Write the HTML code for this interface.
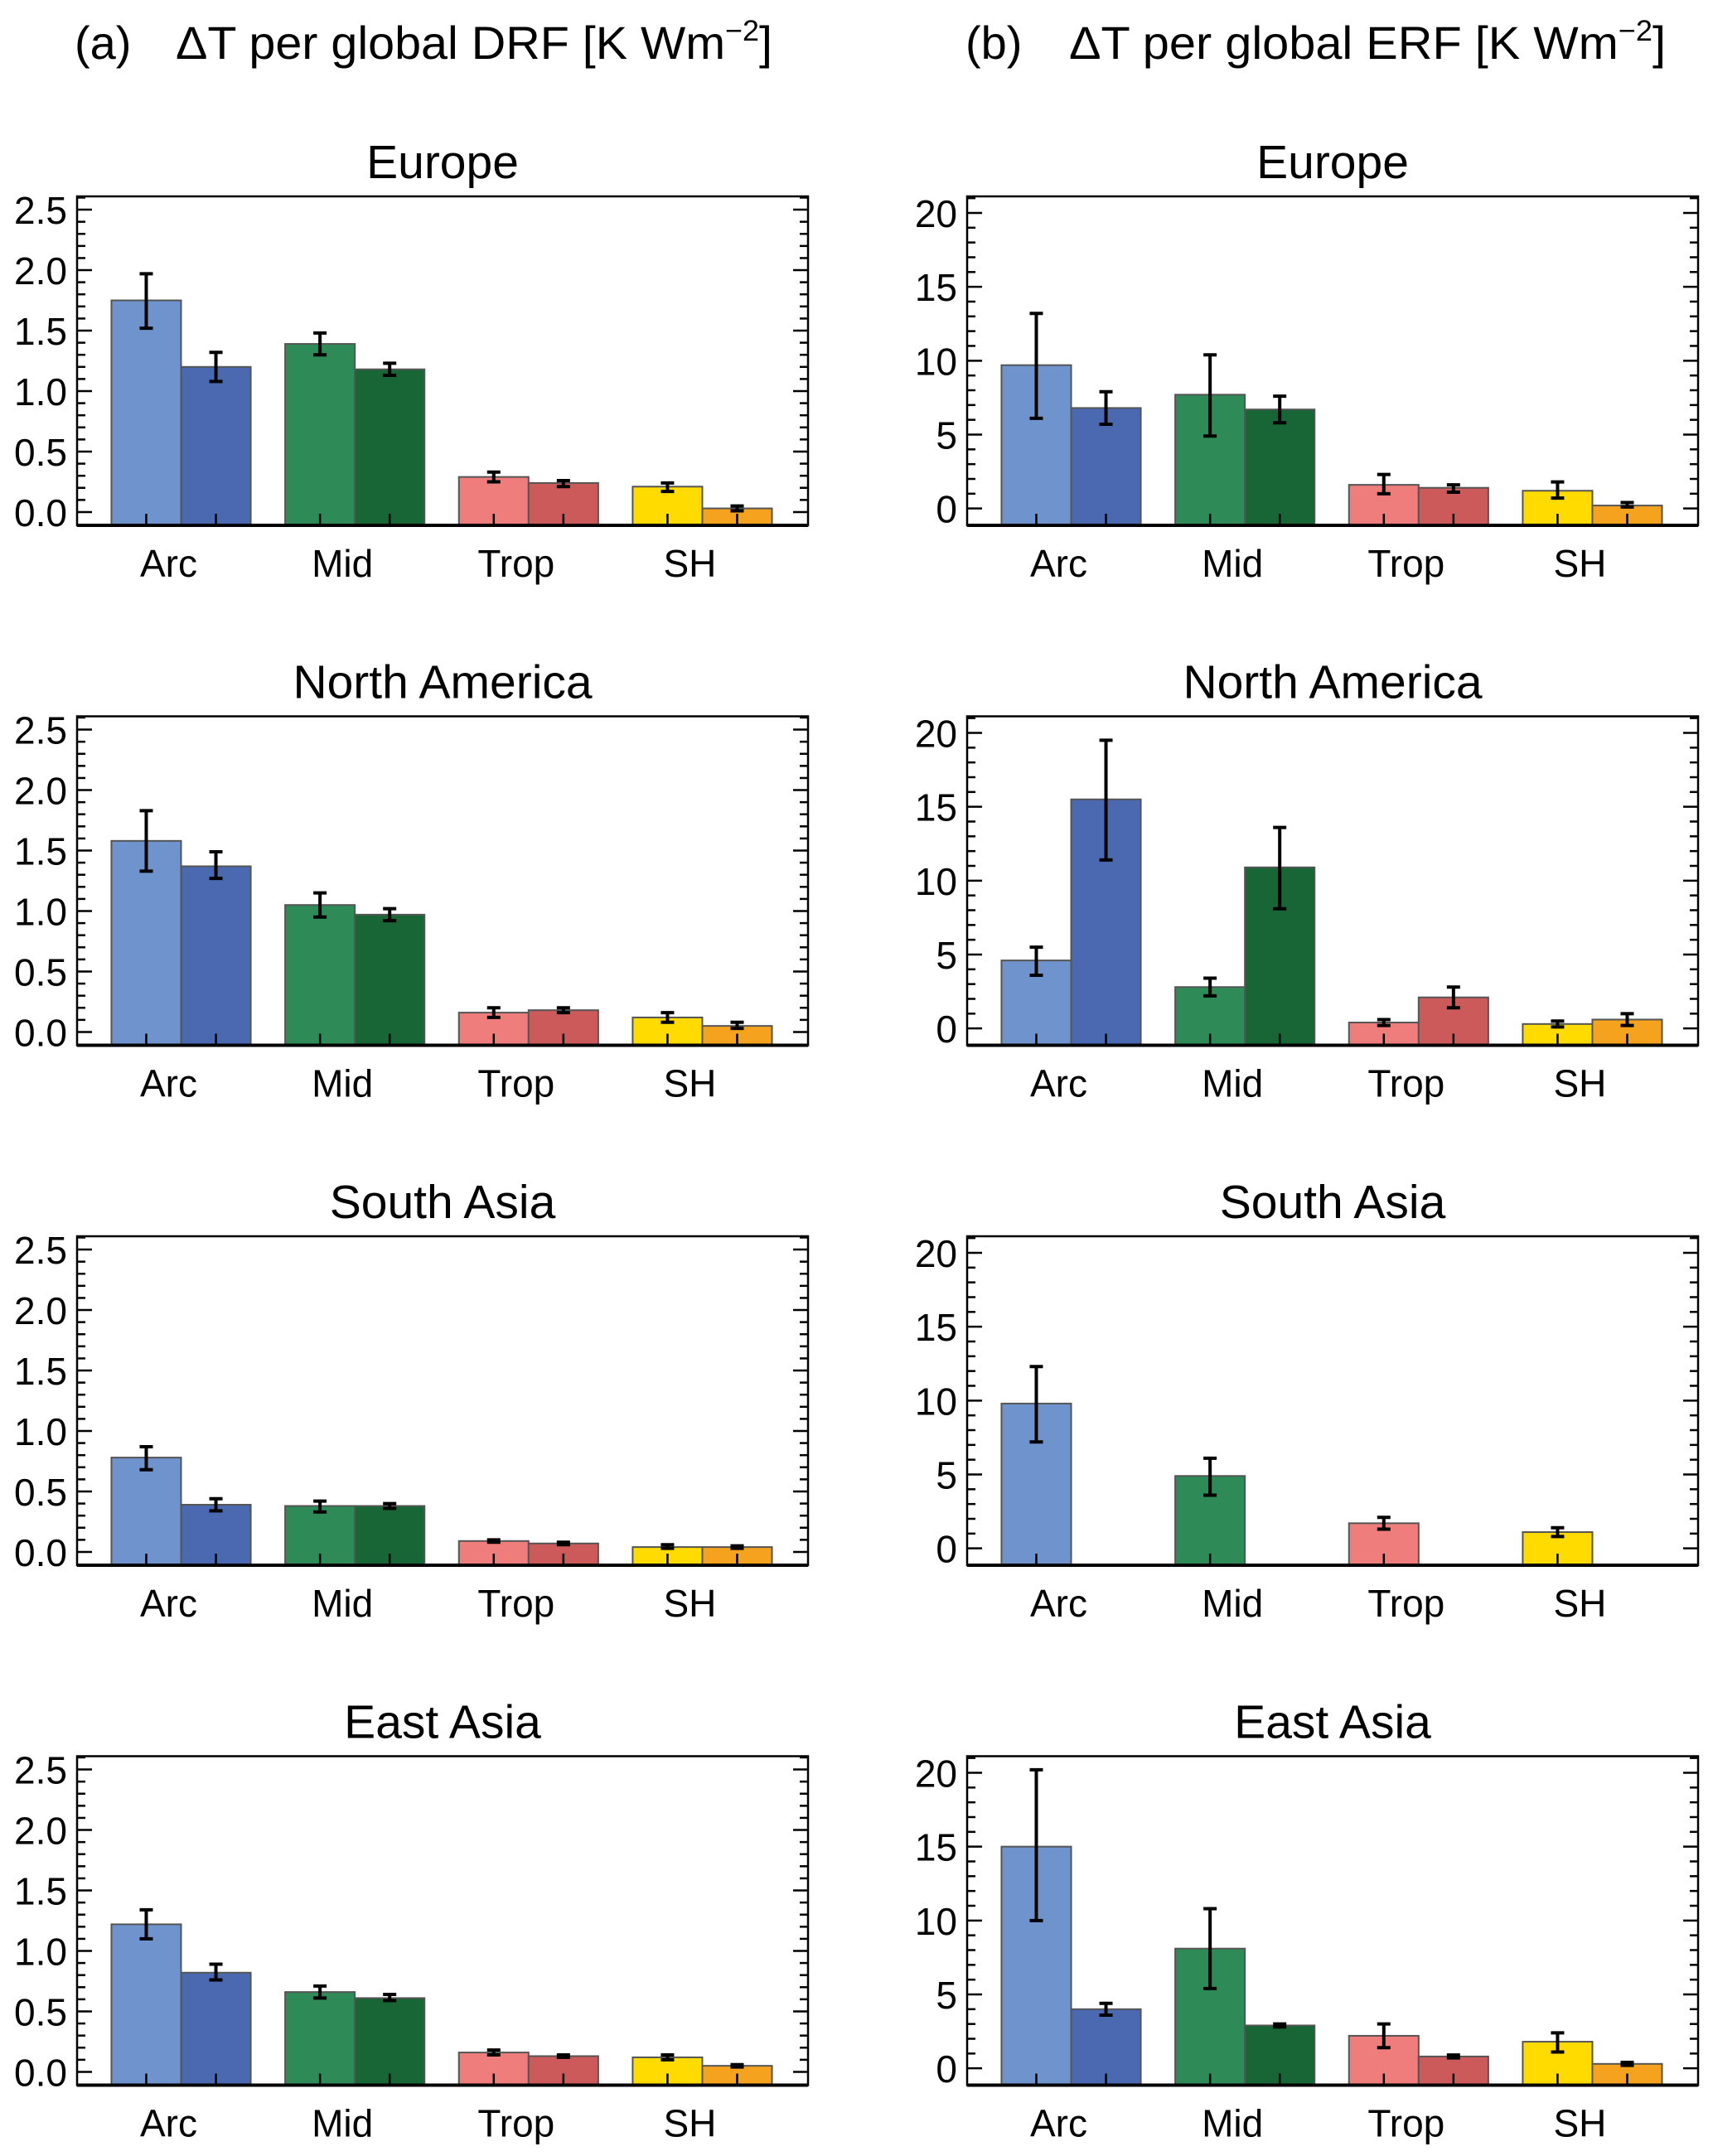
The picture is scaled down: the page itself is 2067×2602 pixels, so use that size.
<!DOCTYPE html>
<html><head><meta charset="utf-8"><style>
html,body{margin:0;padding:0;background:#fff;}
svg{display:block;font-family:"Liberation Sans",Arial,sans-serif;}
</style></head><body>
<svg id="fig" width="2067" height="2602" viewBox="0 0 2067 2602" xmlns="http://www.w3.org/2000/svg">
<text x="90" y="71" font-size="56">(a)</text>
<text x="212" y="71" font-size="56" textLength="720" lengthAdjust="spacingAndGlyphs">ΔT per global DRF [K Wm<tspan dy="-22" font-size="35">−2</tspan><tspan dy="22">]</tspan></text>
<text x="1165" y="71" font-size="56">(b)</text>
<text x="1290" y="71" font-size="56" textLength="720" lengthAdjust="spacingAndGlyphs">ΔT per global ERF [K Wm<tspan dy="-22" font-size="35">−2</tspan><tspan dy="22">]</tspan></text>
</svg>
<script>
const categories = ["Arc","Mid","Trop","SH"];
const regions = ["Europe","North America","South Asia","East Asia"];
const colors1 = ["#6f93cc","#2e8b57","#ee7d7b","#ffdb00"];
const colors2 = ["#4b69b1","#186535","#cc5a5a","#f5a31e"];
const drf1 = [[1.75,1.39,0.29,0.21],[1.58,1.05,0.16,0.12],[0.78,0.38,0.09,0.04],[1.22,0.66,0.16,0.12]];
const drf1Lo = [[1.52,1.30,0.25,0.17],[1.33,0.95,0.12,0.08],[0.68,0.33,0.08,0.03],[1.10,0.61,0.14,0.10]];
const drf1Hi = [[1.97,1.48,0.33,0.24],[1.83,1.15,0.20,0.16],[0.87,0.42,0.10,0.06],[1.34,0.71,0.18,0.14]];
const drf2 = [[1.20,1.18,0.24,0.03],[1.37,0.97,0.18,0.05],[0.39,0.38,0.07,0.04],[0.82,0.61,0.13,0.05]];
const drf2Lo = [[1.08,1.13,0.21,0.01],[1.27,0.92,0.16,0.03],[0.34,0.36,0.06,0.03],[0.76,0.59,0.12,0.04]];
const drf2Hi = [[1.32,1.23,0.26,0.05],[1.49,1.02,0.20,0.08],[0.44,0.40,0.08,0.05],[0.89,0.64,0.14,0.06]];
const erf1 = [[9.7,7.7,1.6,1.2],[4.6,2.8,0.4,0.3],[9.8,4.9,1.7,1.1],[15.0,8.1,2.2,1.8]];
const erf1Lo = [[6.1,4.9,1.0,0.7],[3.6,2.2,0.2,0.1],[7.2,3.6,1.3,0.8],[10.0,5.4,1.4,1.1]];
const erf1Hi = [[13.2,10.4,2.3,1.8],[5.5,3.4,0.6,0.5],[12.3,6.1,2.1,1.4],[20.2,10.8,3.0,2.4]];
const erf2 = [[6.8,6.7,1.4,0.2],[15.5,10.9,2.1,0.6],[null,null,null,null],[4.0,2.9,0.8,0.3]];
const erf2Lo = [[5.7,5.8,1.1,0.1],[11.4,8.1,1.4,0.2],[null,null,null,null],[3.6,2.8,0.7,0.2]];
const erf2Hi = [[7.9,7.6,1.6,0.4],[19.5,13.6,2.8,1.0],[null,null,null,null],[4.4,3.0,0.9,0.4]];
const drfTicks = ["0.0","0.5","1.0","1.5","2.0","2.5"];
const erfTicks = ["0","5","10","15","20"];

const NS="http://www.w3.org/2000/svg";
const svg=document.getElementById('fig');
function mk(tag,attrs,parent){const e=document.createElementNS(NS,tag);for(const k in attrs)e.setAttribute(k,attrs[k]);(parent||svg).appendChild(e);return e;}

function panel(col,row){
  const left = col===0?93:1167, right = col===0?975:2049;
  const top = 237+row*627.5, bottom = 634+row*627.5;
  const W = right-left;
  const yMin = col===0?-0.11:-1.14, yMax = col===0?2.61:21.12;
  const y = v => bottom-(v-yMin)/(yMax-yMin)*(bottom-top);
  const xSlot = i => left + W*(0.047+0.2377*i);
  const bw = W*0.0953;
  const g = mk('g',{});
  
  
  const t = mk('text',{x:(left+right)/2,y:top-22,'font-size':57,'text-anchor':'middle'},g);
  
  
  t.textContent = regions[row];
  const v1 = col===0?drf1:erf1, l1=col===0?drf1Lo:erf1Lo, h1=col===0?drf1Hi:erf1Hi;
  const v2 = col===0?drf2:erf2, l2=col===0?drf2Lo:erf2Lo, h2=col===0?drf2Hi:erf2Hi;
  categories.forEach((c,i)=>{
    [[v1,l1,h1,colors1],[v2,l2,h2,colors2]].forEach((s,j)=>{
      const v=s[0][row][i]; if(v===null) return;
      const x0 = xSlot(i)+j*bw;
      const r = mk('rect',{x:x0,y:y(v),width:bw,height:bottom-y(v),fill:s[3][i],stroke:'#555','stroke-width':2},g);
      
      
      const cx=x0+bw/2, lo=y(s[1][row][i]), hi=y(s[2][row][i]);
      mk('line',{x1:cx,x2:cx,y1:bottom,y2:bottom-14,stroke:'#000','stroke-width':2.5},g);
      const e = mk('path',{d:`M${cx},${lo}V${hi}M${cx-8},${lo}H${cx+8}M${cx-8},${hi}H${cx+8}`,stroke:'#000','stroke-width':4,fill:'none'},g);
      
      
    });
    const lbl = mk('text',{x:xSlot(i)+bw-15,y:bottom+62,'font-size':46,'text-anchor':'middle'},g);
    
    
    lbl.textContent=c;
  });
  const step = col===0?0.1:1, major = 5;
  for(let k=0;;k++){const v=k*step; if(v>yMax) break; const yy=y(v); const len=k%major===0?18:10;
    mk('line',{x1:left,x2:left+len,y1:yy,y2:yy,stroke:'#000','stroke-width':2.5},g);
    mk('line',{x1:right,x2:right-len,y1:yy,y2:yy,stroke:'#000','stroke-width':2.5},g);}
  const ticks = col===0?drfTicks:erfTicks;
  ticks.forEach(tl=>{const tt=mk('text',{x:left-12,y:y(parseFloat(tl))+17,'font-size':46,'text-anchor':'end'},g);
    
    
    tt.textContent=tl;});
  const fr = mk('rect',{x:left,y:top,width:W,height:bottom-top,fill:'none',stroke:'#000','stroke-width':2.5},g);
  
  
  mk('line',{x1:left,x2:right,y1:bottom,y2:bottom,stroke:'#000','stroke-width':4},g);
}
for(let c=0;c<2;c++)for(let r=0;r<4;r++)panel(c,r);
</script>
</body></html>
